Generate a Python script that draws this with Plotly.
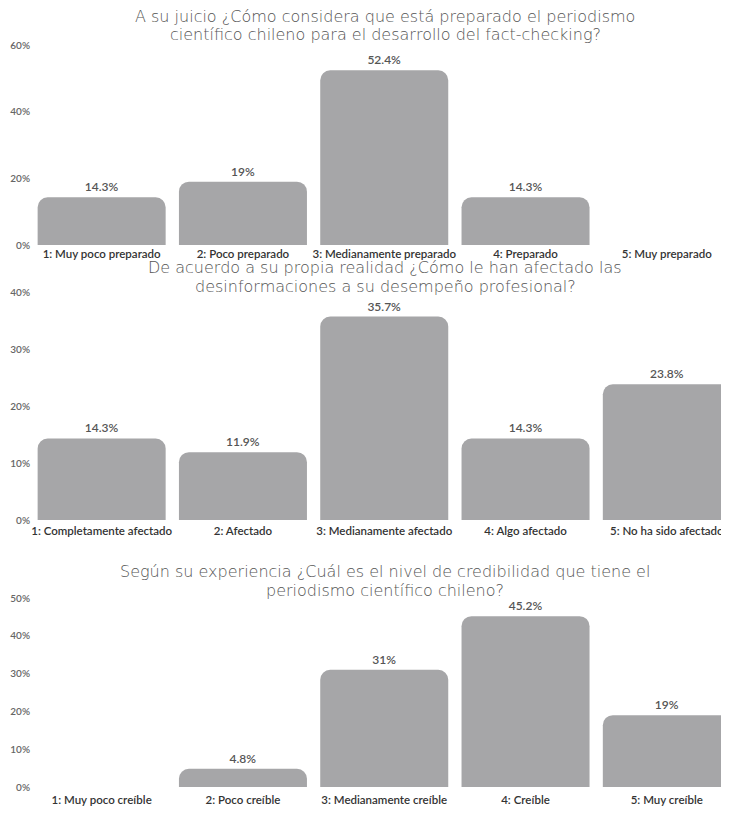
import plotly.graph_objects as go
from plotly.subplots import make_subplots

titles1 = ["A su juicio ¿Cómo considera que está preparado el periodismo",
           "científico chileno para el desarrollo del fact-checking?"]
cats1 = ["1: Muy poco preparado", "2: Poco preparado", "3: Medianamente preparado",
         "4: Preparado", "5: Muy preparado"]
vals1 = [14.3, 19, 52.4, 14.3, 0]

titles2 = ["De acuerdo a su propia realidad ¿Cómo le han afectado las",
           "desinformaciones a su desempeño profesional?"]
cats2 = ["1: Completamente afectado", "2: Afectado", "3: Medianamente afectado",
         "4: Algo afectado", "5: No ha sido afectado"]
vals2 = [14.3, 11.9, 35.7, 14.3, 23.8]

titles3 = ["Según su experiencia ¿Cuál es el nivel de credibilidad que tiene el",
           "periodismo científico chileno?"]
cats3 = ["1: Muy poco creíble", "2: Poco creíble", "3: Medianamente creíble",
         "4: Creíble", "5: Muy creíble"]
vals3 = [0, 4.8, 31, 45.2, 19]

yranges = [60, 40, 50]
ydticks = [20, 10, 10]

# page body has an 8px margin; figure sized so nothing overflows the 729x816 window
OFF = 8
W, H = 729 - OFF, 800
BAR = "#a6a6a8"
FONT = "Lato"

fig = make_subplots(rows=3, cols=1)

panels = [(cats1, vals1, titles1), (cats2, vals2, titles2), (cats3, vals3, titles3)]
# screen pixel positions (baseline, top-of-range) for each panel
ypix = [(245, 45), (520, 292), (787, 598)]
titlepix = [(16, 35), (267, 286), (571, 590)]
standoffs = [0, 2, 4]

L = 31 - OFF
for i, (cats, vals, tl) in enumerate(panels):
    r = i + 1
    txt = [f"{v:g}%" if v > 0 else "" for v in vals]
    fig.add_trace(go.Bar(
        x=list(range(len(cats))), y=vals, text=txt, textposition="outside",
        textfont=dict(family=FONT, size=12, color="#555555", weight=600),
        marker=dict(color=BAR, line=dict(width=0)),
        cliponaxis=False, showlegend=False, hoverinfo="skip",
    ), row=r, col=1)
    b, t = ypix[i]
    b -= OFF
    t -= OFF
    fig.update_yaxes(range=[0, yranges[i]], dtick=ydticks[i], ticksuffix="%",
                     domain=[(H - b) / H, (H - t) / H], showgrid=False, zeroline=False,
                     showline=False, ticks="", automargin=False,
                     tickfont=dict(family=FONT, size=10, color="#666666", weight=600),
                     row=r, col=1)
    fig.update_xaxes(range=[-0.5, 4.44], tickmode="array", tickvals=list(range(len(cats))),
                     ticktext=cats, showgrid=False, zeroline=False, showline=False,
                     ticks="", automargin=False, ticklabelstandoff=standoffs[i],
                     tickfont=dict(family=FONT, size=11.5, color="#333333", weight=600),
                     row=r, col=1)
    for k, line in enumerate(tl):
        py = titlepix[i][k] - OFF
        fig.add_annotation(text=line, xref="paper", yref="paper",
                           x=(385 - OFF - L) / (W - L), y=(H - py) / H,
                           xanchor="center", yanchor="middle", showarrow=False,
                           font=dict(family="DejaVu Sans", size=16, color="#555555", weight=300))

fig.update_layout(
    width=W, height=H, margin=dict(l=L, r=0, t=0, b=0),
    plot_bgcolor="white", paper_bgcolor="white",
    bargap=0.094, barcornerradius=10,
)
fig.write_html("out.html")
